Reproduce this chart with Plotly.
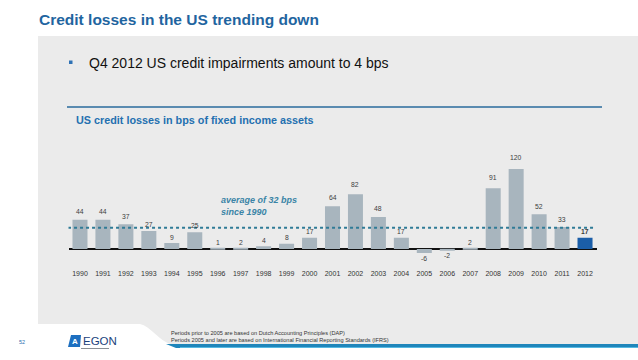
import plotly.graph_objects as go

W, H = 638, 360

years = [str(y) for y in range(1990, 2013)]
losses = [44, 44, 37, 27, 9, 25, 1, 2, 4, 8, 17, 64, 82, 48, 17, -6, -2, 2, 91, 120, 52, 33, 17]
average_bps = 32

title_text = "Credit losses in the US trending down"
bullet_text = "Q4 2012 US credit impairments amount to 4 bps"
subtitle_text = "US credit losses in bps of fixed income assets"
avg_text = "average of 32 bps<br>since 1990"
foot1 = "Periods prior to 2005 are based on Dutch Accounting Principles (DAP)"
foot2 = "Periods 2005 and later are based on International Financial Reporting Standards (IFRS)"
page_no = "52"

BAR_GREY = "#a8b5be"
BAR_BLUE = "#1b5ea8"
TITLE_BLUE = "#1f65a0"
FONT = "Liberation Sans, Arial, sans-serif"


def px(x):
    return x / W


def py(y):
    return 1 - y / H


colors = [BAR_BLUE if y == "2012" else BAR_GREY for y in years]

fig = go.Figure()
fig.add_trace(go.Bar(x=years, y=losses, marker=dict(color=colors, line=dict(width=0)),
                     hoverinfo="x+y"))

shapes = []
# grey panel with curved bottom-left corner
shapes.append(dict(type="path", xref="paper", yref="paper",
                   path=(f"M {px(38)},{py(36)} L {px(638)},{py(36)} L {px(638)},{py(344)} "
                         f"L {px(170)},{py(344)} C {px(160)},{py(341)} {px(150)},{py(326)} {px(140)},{py(324)} "
                         f"L {px(38)},{py(324)} Z"),
                   fillcolor="#ebebeb", line=dict(width=0), layer="below"))
# bottom blue band
shapes.append(dict(type="path", xref="paper", yref="paper",
                   path=(f"M {px(166)},{py(344)} L {px(638)},{py(344)} L {px(638)},{py(348)} "
                         f"L {px(176)},{py(348)} Z"),
                   fillcolor="#1f86bb", line=dict(width=0), layer="below"))
shapes.append(dict(type="rect", xref="paper", yref="paper",
                   x0=px(180), x1=px(638), y0=py(348), y1=py(347),
                   fillcolor="#56b9e2", line=dict(width=0), layer="below"))
# blue rule above subtitle
shapes.append(dict(type="line", xref="paper", yref="paper",
                   x0=px(67), x1=px(602), y0=py(107), y1=py(107),
                   line=dict(color="#2a6b9c", width=1.5)))
# bullet square
shapes.append(dict(type="rect", xref="paper", yref="paper",
                   x0=px(69), x1=px(72.5), y0=py(60.5), y1=py(64),
                   fillcolor="#2f72b5", line=dict(width=0)))
# average dotted line
shapes.append(dict(type="line", xref="x", yref="y",
                   x0=-0.52, x1=22.45, y0=average_bps, y1=average_bps,
                   line=dict(color="#2f7b96", width=2, dash="dot")))
# logo parallelogram
shapes.append(dict(type="path", xref="paper", yref="paper",
                   path=(f"M {px(71)},{py(335)} L {px(81)},{py(335)} L {px(80)},{py(347)} "
                         f"L {px(68)},{py(347)} Z"),
                   fillcolor="#1d6fc0", line=dict(width=0)))
shapes.append(dict(type="line", xref="paper", yref="paper",
                   x0=px(81), x1=px(109), y0=py(348.5), y1=py(348.5),
                   line=dict(color="#8a8f96", width=1)))

annotations = []
# value labels (category index used as x position on the category axis)
for i, (yr, v) in enumerate(zip(years, losses)):
    annotations.append(dict(x=i, y=v * 1.08, xref="x", yref="y",
                            text=(f"<b>{v}</b>" if yr == "2012" else str(v)),
                            showarrow=False, yanchor="middle", xanchor="center",
                            yshift=(5.5 if v >= 0 else -5.5),
                            font=dict(size=6.8, color="#3c3c3c", family=FONT)))

annotations += [
    dict(x=px(37), y=py(19), xref="paper", yref="paper", text=f"<b>{title_text}</b>",
         showarrow=False, xanchor="left", yanchor="middle",
         font=dict(size=15.5, color=TITLE_BLUE, family=FONT)),
    dict(x=px(87), y=py(62.5), xref="paper", yref="paper", text=bullet_text,
         showarrow=False, xanchor="left", yanchor="middle",
         font=dict(size=14, color="#111111", family=FONT)),
    dict(x=px(74), y=py(120), xref="paper", yref="paper", text=f"<b>{subtitle_text}</b>",
         showarrow=False, xanchor="left", yanchor="middle",
         font=dict(size=10.8, color="#2470b0", family=FONT)),
    dict(x=px(219), y=py(206), xref="paper", yref="paper", text=f"<b><i>{avg_text}</i></b>",
         showarrow=False, xanchor="left", yanchor="middle", align="left",
         font=dict(size=9, color="#3a84a6", family=FONT)),
    dict(x=px(169), y=py(333), xref="paper", yref="paper", text=foot1,
         showarrow=False, xanchor="left", yanchor="middle",
         font=dict(size=5.6, color="#333333", family=FONT)),
    dict(x=px(169), y=py(339.5), xref="paper", yref="paper", text=foot2,
         showarrow=False, xanchor="left", yanchor="middle",
         font=dict(size=5.6, color="#333333", family=FONT)),
    dict(x=px(22), y=py(342), xref="paper", yref="paper", text=page_no,
         showarrow=False, xanchor="center", yanchor="middle",
         font=dict(size=5.5, color="#2a6fb0", family=FONT)),
    dict(x=px(75), y=py(341), xref="paper", yref="paper", text="<b>A</b>",
         showarrow=False, xanchor="center", yanchor="middle",
         font=dict(size=8, color="white", family=FONT)),
    dict(x=px(80.5), y=py(341), xref="paper", yref="paper", text="EGON",
         showarrow=False, xanchor="left", yanchor="middle",
         font=dict(size=11.5, color="#1a3f7c", family="Liberation Sans Narrow, Liberation Sans, Arial")),
]

fig.update_layout(
    width=W, height=H,
    margin=dict(l=0, r=0, t=0, b=0),
    paper_bgcolor="white", plot_bgcolor="rgba(0,0,0,0)",
    showlegend=False,
    bargap=0.346,
    shapes=shapes, annotations=annotations,
    font=dict(family=FONT),
    xaxis=dict(domain=[px(68.5), px(596.5)], type="category", range=[-0.5, 22.5],
               showgrid=False, showline=False, zeroline=False, ticks="",
               ticklabelstandoff=6,
               tickfont=dict(size=7, color="#333333", family=FONT), fixedrange=True),
    yaxis=dict(domain=[py(262), py(155.67)], range=[-19.5, 140], visible=True,
               showgrid=False, showticklabels=False, showline=False, ticks="",
               zeroline=True, zerolinecolor="#111111", zerolinewidth=1.5, fixedrange=True),
)

fig.write_html("out.html", config={"displayModeBar": False},
               post_script="document.body.style.margin='0';document.body.style.padding='0';")
